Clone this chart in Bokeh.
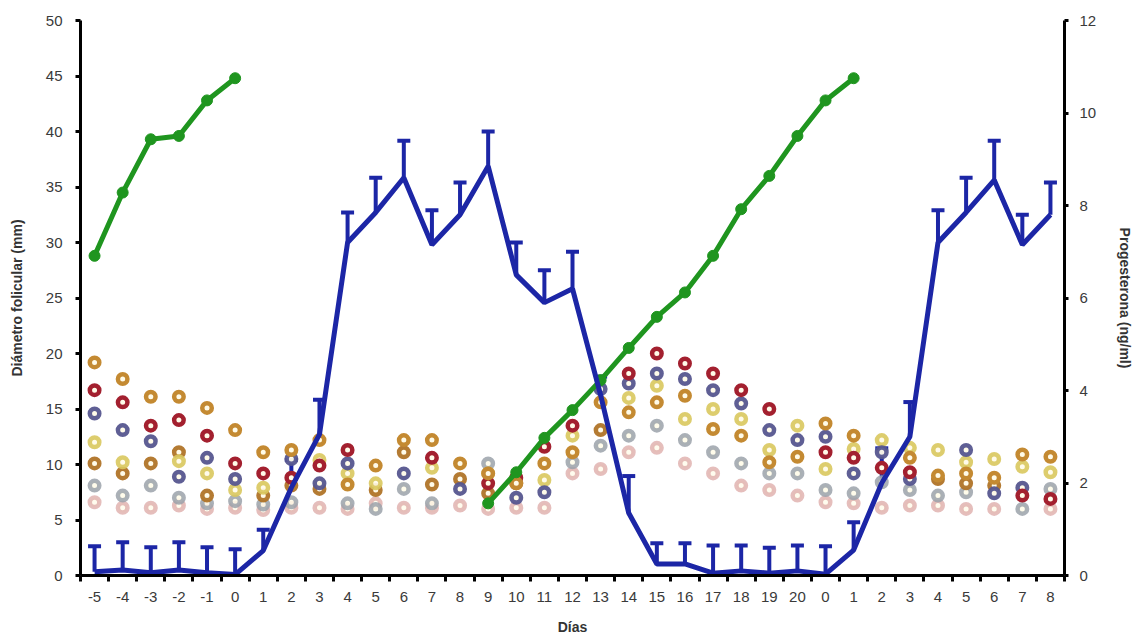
from bokeh.plotting import figure
from bokeh.models import (Range1d, LinearAxis, FixedTicker, Whisker, TeeHead,
                          ColumnDataSource)
from bokeh.embed import file_html
from bokeh.resources import INLINE
import numpy as np

N = None
# x positions 0..34 with their day labels
day_labels = ["-5", "-4", "-3", "-2", "-1", "0"] + [str(i) for i in range(1, 21)] + \
             ["0"] + [str(i) for i in range(1, 9)]

# Follicle diameters (mm), left axis
diam_dominant = [28.8, 34.5, 39.3, 39.6, 42.8, 44.8, N, N, N, N, N, N, N, N,
                 6.5, 9.3, 12.4, 14.9, 17.6, 20.5, 23.3, 25.5, 28.8, 33.0, 36.0, 39.6, 42.8, 44.8,
                 N, N, N, N, N, N, N]

f_ochre = [19.2, 17.7, 16.1, 16.1, 15.1, 13.1, 11.1, 11.3, 12.2, 8.2, 9.9, 12.2, 12.2, 10.1,
           9.2, 8.3, 10.1, 11.1, 15.6, 14.7, 15.6, 16.2, 13.2, 12.6, 10.2, 10.7, 13.7, 12.6,
           N, 10.6, 9.0, 9.2, 8.8, 10.9, 10.7]
f_red = [16.7, 15.6, 13.5, 14.0, 12.6, 10.1, 9.2, 8.8, 9.9, 11.3, N, N, 10.6, N,
         8.3, 8.8, 11.6, 13.5, N, 18.2, 20.0, 19.1, 18.2, 16.7, 15.0, N, 11.1, 10.6,
         9.7, 9.3, N, N, N, 7.2, 6.9]
f_navy = [14.6, 13.1, 12.1, 8.9, 10.6, 8.7, N, 10.5, 8.3, 10.1, N, 9.2, N, 7.8,
          N, 7.0, 7.5, N, 16.8, 17.3, 18.2, 17.7, 16.7, 15.5, 13.1, 12.2, 12.5, 9.2,
          11.1, 8.7, N, 11.3, 7.4, 7.9, N]
f_yellow = [12.0, 10.2, N, 10.3, 9.2, 7.7, 7.9, N, 10.4, 9.2, 8.3, N, 9.7, N,
            9.2, N, 8.6, 12.6, N, 16.0, 17.1, 14.1, 15.0, 14.1, 11.3, 13.5, 9.6, 11.4,
            12.2, 11.5, 11.3, 10.2, 10.5, 9.8, 9.3]
f_brown = [10.1, 9.2, 10.1, 11.1, 7.2, N, 7.2, 8.1, 7.8, N, 7.7, 11.1, 8.2, 8.7,
           7.4, 8.3, N, N, 13.1, N, N, N, N, N, N, N, N, N,
           N, N, 8.7, 8.3, 8.1, N, N]
f_gray = [8.1, 7.2, 8.1, 7.0, 6.5, 6.7, 6.4, 6.6, N, 6.5, 6.0, 7.8, 6.5, N,
          10.1, N, N, 10.2, 11.7, 12.6, 13.5, 12.2, 11.1, 10.1, 9.2, 9.2, 7.7, 7.4,
          8.4, 7.7, 7.2, 7.5, N, 6.0, 7.8]
f_pink = [6.6, 6.1, 6.1, 6.3, 6.0, 6.1, 5.9, 6.1, 6.1, 6.0, 6.5, 6.1, 6.1, 6.3,
          6.0, 6.1, 6.1, 9.2, 9.6, 11.1, 11.5, 10.1, 9.2, 8.1, 7.7, 7.2, 6.6, 6.5,
          6.1, 6.3, 6.3, 6.0, 6.0, N, 6.0]

# Progesterone (ng/ml), right axis, with standard error
progesterone = [0.08, 0.12, 0.06, 0.12, 0.06, 0.02, 0.54, 1.9, 3.05, 7.2, 7.85, 8.6, 7.15, 7.8,
                8.85, 6.5, 5.9, 6.2, 3.9, 1.35, 0.25, 0.25, 0.05, 0.1, 0.05, 0.1, 0.03, 0.55,
                2.0, 3.0, 7.2, 7.85, 8.55, 7.15, 7.8]
prog_se = [0.55, 0.6, 0.55, 0.6, 0.55, 0.55, 0.45, 0.6, 0.75, 0.65, 0.75, 0.8, 0.75, 0.7,
           0.75, 0.7, 0.7, 0.8, 0.4, 0.8, 0.45, 0.45, 0.6, 0.55, 0.55, 0.55, 0.6, 0.6,
           0.75, 0.75, 0.7, 0.75, 0.85, 0.65, 0.7]

x = list(range(len(day_labels)))


def arr(v):
    return np.array([np.nan if a is None else a for a in v], dtype=float)


FONT = "Liberation Sans"
W, H = 1136, 640

p = figure(width=W, height=H, output_backend="svg", toolbar_location=None,
           x_range=Range1d(-0.5, len(x) - 0.5), y_range=Range1d(0, 50),
           min_border_left=80, min_border_right=W - 1065, min_border_top=20,
           min_border_bottom=H - 575)
p.outline_line_color = None
p.grid.visible = False
p.background_fill_color = "white"
p.border_fill_color = "white"

p.extra_y_ranges = {"prog": Range1d(0, 12)}

# follicle rings
ring_series = [
    (f_pink, "#dca8a6", 0.75),
    (f_gray, "#9ba2aa", 0.85),
    (f_brown, "#b07428", 0.95),
    (f_yellow, "#d9c85e", 0.9),
    (f_navy, "#56568f", 0.95),
    (f_red, "#a3202f", 1.0),
    (f_ochre, "#c48a32", 1.0),
]
for vals, col, a in ring_series:
    p.scatter(x, arr(vals), marker="circle", size=9.5, line_width=4.5, line_color=col,
              fill_color="#fffbe8", line_alpha=a, fill_alpha=a)

# dominant follicle
p.line(x, arr(diam_dominant), line_color="#1f951f", line_width=5)
p.scatter(x, arr(diam_dominant), marker="circle", size=11, fill_color="#1f951f",
          line_color="#1f951f")

# progesterone
prog = arr(progesterone)
upper = prog + arr(prog_se)
src = ColumnDataSource(dict(x=x, y=prog, up=upper))
p.line("x", "y", source=src, line_color="#1c26a6", line_width=5, y_range_name="prog")
wk = Whisker(source=src, base="x", upper="up", lower="y", dimension="height",
             y_range_name="prog", line_color="#1c26a6", line_width=4,
             upper_head=TeeHead(size=13, line_color="#1c26a6", line_width=4),
             lower_head=None)
p.add_layout(wk)

# axes styling
ax_x = p.xaxis[0]
ax_x.ticker = FixedTicker(ticks=x, minor_ticks=[i - 0.5 for i in range(len(x) + 1)])
ax_x.major_label_overrides = {i: lab for i, lab in enumerate(day_labels)}
ax_x.major_tick_line_color = None
ax_x.minor_tick_line_color = "black"
ax_x.minor_tick_line_width = 3
ax_x.minor_tick_out = 6
ax_x.minor_tick_in = 0
ax_x.axis_line_width = 3
ax_x.axis_line_color = "black"
ax_x.axis_label = "Días"
ax_x.axis_label_text_font = FONT
ax_x.axis_label_text_font_style = "bold"
ax_x.axis_label_text_font_size = "14px"
ax_x.axis_label_text_color = "#333333"
ax_x.axis_label_standoff = 14
ax_x.major_label_text_font = FONT
ax_x.major_label_text_font_size = "15px"
ax_x.major_label_text_color = "#3a3a3a"
ax_x.major_label_standoff = 10

ax_y = p.yaxis[0]
ax_y.ticker = FixedTicker(ticks=list(range(0, 51, 5)))
ax_y.minor_tick_line_color = None
ax_y.major_tick_line_width = 3
ax_y.major_tick_out = 5
ax_y.major_tick_in = 0
ax_y.axis_line_width = 3
ax_y.axis_label = "Diámetro folicular (mm)"
ax_y.axis_label_text_font = FONT
ax_y.axis_label_text_font_style = "bold"
ax_y.axis_label_text_font_size = "14px"
ax_y.axis_label_text_color = "#333333"
ax_y.axis_label_standoff = 18
ax_y.major_label_text_font = FONT
ax_y.major_label_text_font_size = "15px"
ax_y.major_label_text_color = "#3a3a3a"
ax_y.major_label_standoff = 13

ax_r = LinearAxis(y_range_name="prog", ticker=FixedTicker(ticks=list(range(0, 13, 2))))
ax_r.minor_tick_line_color = None
ax_r.major_tick_line_width = 3
ax_r.major_tick_out = 4
ax_r.major_tick_in = 0
ax_r.axis_line_width = 3
ax_r.axis_label = "Progesterona (ng/ml)"
ax_r.axis_label_text_font = FONT
ax_r.axis_label_text_font_style = "bold"
ax_r.axis_label_text_font_size = "14px"
ax_r.axis_label_text_color = "#333333"
ax_r.axis_label_standoff = 18
ax_r.major_label_text_font = FONT
ax_r.major_label_text_font_size = "15px"
ax_r.major_label_text_color = "#3a3a3a"
ax_r.major_label_standoff = 11
p.add_layout(ax_r, "right")

open("out.html", "w").write(file_html(p, INLINE))
